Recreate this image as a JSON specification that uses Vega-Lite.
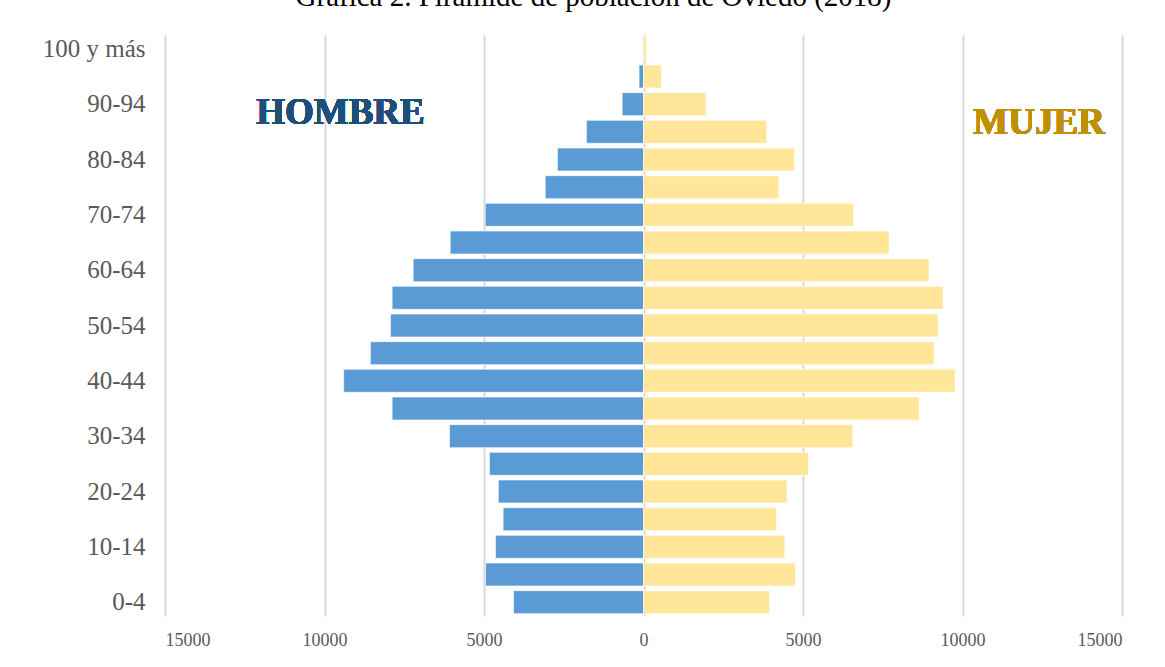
{
  "$schema": "https://vega.github.io/schema/vega-lite/v6.json",
  "width": 957,
  "height": 581,
  "autosize": {"type": "none"},
  "padding": {"left": 165, "top": 35, "right": 43, "bottom": 51},
  "background": "#FFFFFF",
  "title": {
    "text": "Gráfica 2. Pirámide de población de Oviedo (2018)",
    "font": "Liberation Serif",
    "fontSize": 29,
    "fontWeight": "normal",
    "color": "#000000",
    "anchor": "middle",
    "baseline": "alphabetic",
    "offset": 0,
    "dx": -50
  },
  "config": {
    "view": {"stroke": null},
    "font": "Liberation Serif"
  },
  "data": {
    "values": [
      {"edad": "0-4", "sexo": "Hombre", "poblacion": -4075},
      {"edad": "0-4", "sexo": "Mujer", "poblacion": 3950},
      {"edad": "5-9", "sexo": "Hombre", "poblacion": -4950},
      {"edad": "5-9", "sexo": "Mujer", "poblacion": 4760},
      {"edad": "10-14", "sexo": "Hombre", "poblacion": -4640},
      {"edad": "10-14", "sexo": "Mujer", "poblacion": 4430},
      {"edad": "15-19", "sexo": "Hombre", "poblacion": -4400},
      {"edad": "15-19", "sexo": "Mujer", "poblacion": 4170},
      {"edad": "20-24", "sexo": "Hombre", "poblacion": -4550},
      {"edad": "20-24", "sexo": "Mujer", "poblacion": 4500},
      {"edad": "25-29", "sexo": "Hombre", "poblacion": -4830},
      {"edad": "25-29", "sexo": "Mujer", "poblacion": 5170},
      {"edad": "30-34", "sexo": "Hombre", "poblacion": -6080},
      {"edad": "30-34", "sexo": "Mujer", "poblacion": 6560},
      {"edad": "35-39", "sexo": "Hombre", "poblacion": -7880},
      {"edad": "35-39", "sexo": "Mujer", "poblacion": 8640},
      {"edad": "40-44", "sexo": "Hombre", "poblacion": -9400},
      {"edad": "40-44", "sexo": "Mujer", "poblacion": 9770},
      {"edad": "45-49", "sexo": "Hombre", "poblacion": -8560},
      {"edad": "45-49", "sexo": "Mujer", "poblacion": 9110},
      {"edad": "50-54", "sexo": "Hombre", "poblacion": -7930},
      {"edad": "50-54", "sexo": "Mujer", "poblacion": 9240},
      {"edad": "55-59", "sexo": "Hombre", "poblacion": -7880},
      {"edad": "55-59", "sexo": "Mujer", "poblacion": 9390},
      {"edad": "60-64", "sexo": "Hombre", "poblacion": -7220},
      {"edad": "60-64", "sexo": "Mujer", "poblacion": 8950},
      {"edad": "65-69", "sexo": "Hombre", "poblacion": -6060},
      {"edad": "65-69", "sexo": "Mujer", "poblacion": 7700},
      {"edad": "70-74", "sexo": "Hombre", "poblacion": -4960},
      {"edad": "70-74", "sexo": "Mujer", "poblacion": 6580},
      {"edad": "75-79", "sexo": "Hombre", "poblacion": -3080},
      {"edad": "75-79", "sexo": "Mujer", "poblacion": 4240},
      {"edad": "80-84", "sexo": "Hombre", "poblacion": -2700},
      {"edad": "80-84", "sexo": "Mujer", "poblacion": 4730},
      {"edad": "85-89", "sexo": "Hombre", "poblacion": -1790},
      {"edad": "85-89", "sexo": "Mujer", "poblacion": 3860},
      {"edad": "90-94", "sexo": "Hombre", "poblacion": -670},
      {"edad": "90-94", "sexo": "Mujer", "poblacion": 1960},
      {"edad": "95-99", "sexo": "Hombre", "poblacion": -140},
      {"edad": "95-99", "sexo": "Mujer", "poblacion": 560},
      {"edad": "100 y más", "sexo": "Hombre", "poblacion": -20},
      {"edad": "100 y más", "sexo": "Mujer", "poblacion": 90}
    ]
  },
  "encoding": {
    "y": {
      "field": "edad",
      "type": "nominal",
      "sort": ["100 y más", "95-99", "90-94", "85-89", "80-84", "75-79", "70-74", "65-69", "60-64", "55-59", "50-54", "45-49", "40-44", "35-39", "30-34", "25-29", "20-24", "15-19", "10-14", "5-9", "0-4"],
      "scale": {"paddingInner": 0.17, "paddingOuter": 0.085},
      "axis": {
        "title": null,
        "values": ["100 y más", "90-94", "80-84", "70-74", "60-64", "50-54", "40-44", "30-34", "20-24", "10-14", "0-4"],
        "domain": false,
        "ticks": false,
        "labelFont": "Liberation Serif",
        "labelFontSize": 25,
        "labelColor": "#595959",
        "labelPadding": 20
      }
    }
  },
  "layer": [
    {
      "mark": {"type": "bar", "stroke": "#FFFFFF", "strokeWidth": 1, "strokeOpacity": 0.6},
      "encoding": {
        "x": {
          "field": "poblacion",
          "type": "quantitative",
          "scale": {"domain": [-15000, 15000], "nice": false},
          "axis": {
            "title": null,
            "values": [-15000, -10000, -5000, 0, 5000, 10000, 15000],
            "labelExpr": "format(abs(datum.value), 'd')",
            "domain": false,
            "ticks": false,
            "grid": true,
            "gridColor": "#D9D9D9",
            "gridWidth": 2,
            "labelFont": "Liberation Serif",
            "labelFontSize": 18,
            "labelColor": "#595959",
            "labelPadding": 15
          }
        },
        "color": {
          "field": "sexo",
          "type": "nominal",
          "scale": {"domain": ["Hombre", "Mujer"], "range": ["#5B9BD5", "#FFE699"]},
          "legend": null
        }
      }
    },
    {
      "mark": {"type": "text", "font": "Liberation Serif", "fontSize": 37, "fontWeight": "bold", "fill": "#1F4E79", "stroke": null, "align": "center", "baseline": "middle", "dy": 9},
      "encoding": {
        "x": {"datum": -9500, "type": "quantitative"},
        "y": {"datum": "90-94"},
        "text": {"value": "HOMBRE"}
      }
    },
    {
      "mark": {"type": "text", "font": "Liberation Serif", "fontSize": 37, "fontWeight": "bold", "fill": "#BF9000", "stroke": null, "align": "center", "baseline": "middle", "dy": 19},
      "encoding": {
        "x": {"datum": 12400, "type": "quantitative"},
        "y": {"datum": "90-94"},
        "text": {"value": "MUJER"}
      }
    }
  ]
}
